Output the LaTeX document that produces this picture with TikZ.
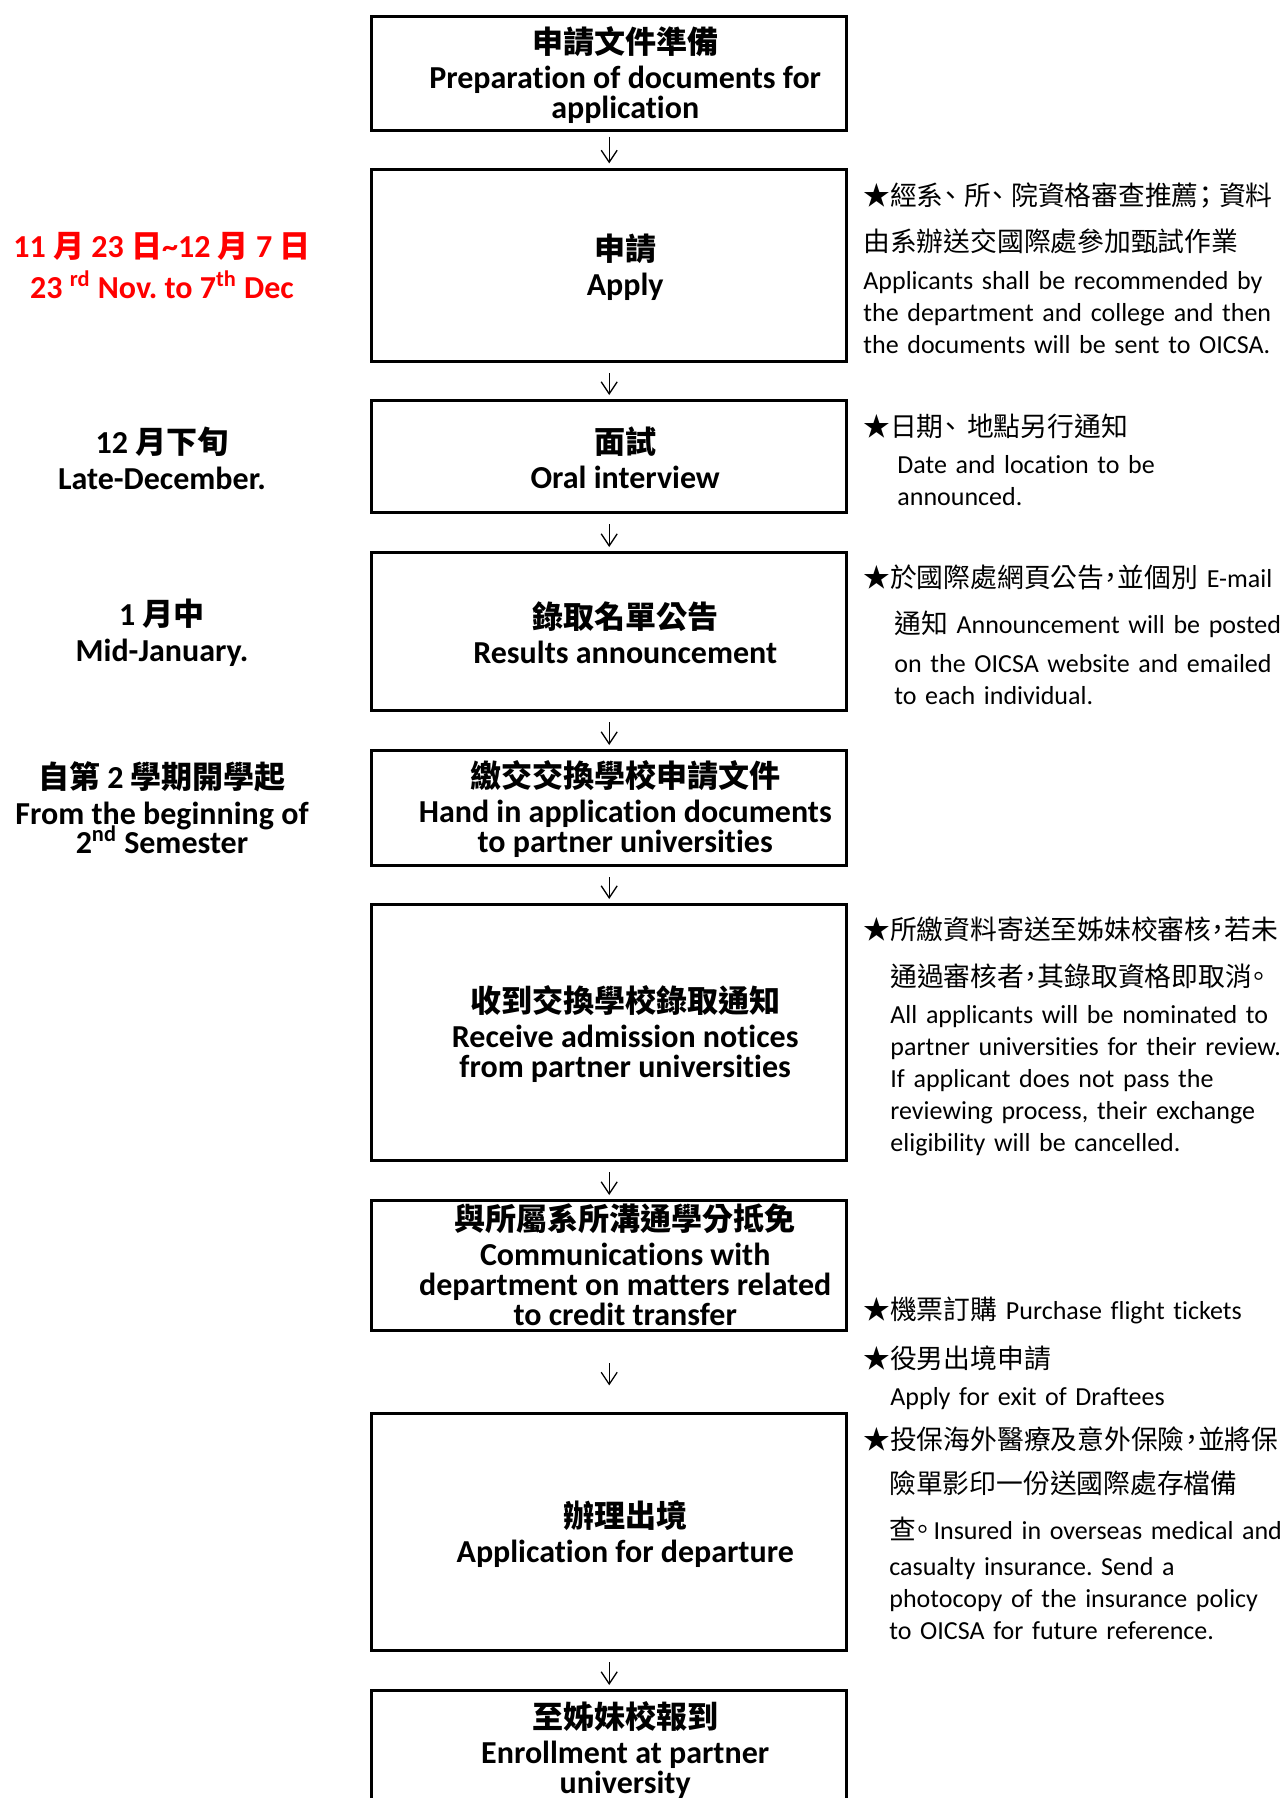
\documentclass[tikz,border=0pt]{standalone}
\usepackage{fontspec}
\setmainfont{Carlito}[Ligatures=NoCommon]
\newfontfamily\cjk{Noto Sans CJK TC}[Scale=0.97]
\newfontfamily\cjknote{Noto Sans CJK TC}[Scale=1.03, RawFeature=+halt]
\newcommand{\zh}[1]{{\cjk #1}}
\newcommand{\zhn}[1]{{\cjknote #1}}
\usetikzlibrary{arrows.meta}
\frenchspacing

\begin{document}
\begin{tikzpicture}[x=0.5pt, y=-0.5pt, line join=round,
    flowbox/.style={draw, line width=1.65pt, line join=miter, minimum width=237.5pt,
      inner sep=0pt},
    boxtext/.style={align=center, inner sep=0pt,
      font=\bfseries\fontsize{16}{15}\selectfont\setlength{\lineskiplimit}{-6pt}},
    flowarrow/.style={-{Straight Barb[length=6pt, width=8pt]}, line width=0.65pt,
      shorten <=5pt, shorten >=2pt},
    datenote/.style={align=center,
      font=\bfseries\fontsize{16}{14.5}\selectfont\setlength{\lineskiplimit}{-6pt}},
    sidenote/.style={anchor=base west, align=left, text width=215pt, inner sep=0pt,
      font=\fontsize{13}{16}\selectfont}]
  % Define parameters
  \def\xc{609.2} % centre line of the boxes
  \def\xt{625.2} % centre line of the box texts (set a little right)
  \def\xd{162}   % centre line of the dates
  \def\xn{863}   % left edge of the notes

  % Page frame (size of the whole sheet)
  \useasboundingbox (0,0) rectangle (1280,1798);

  % Boxes of the flow, top to bottom
  \node[flowbox, minimum height=56.85pt] (prep) at (\xc,73.5) {};
  \node[flowbox, minimum height=95.85pt] (apply) at (\xc,265.5) {};
  \node[flowbox, minimum height=55.85pt] (interview) at (\xc,456.5) {};
  \node[flowbox, minimum height=78.85pt] (results) at (\xc,631.5) {};
  \node[flowbox, minimum height=57.35pt] (handin) at (\xc,808) {};
  \node[flowbox, minimum height=127.85pt] (admit) at (\xc,1032.5) {};
  \node[flowbox, minimum height=64.85pt] (credit) at (\xc,1265.5) {};
  \node[flowbox, minimum height=118.35pt] (depart) at (\xc,1532) {};
  \node[flowbox, minimum height=57pt] (enrol) at (\xc,1747.6) {};

  % Texts inside the boxes
  \node[boxtext] (preptext) at (\xt,75)
    {\zh{申請文件準備}\\[2.5pt]Preparation of documents for\\application};
  \node[boxtext] (applytext) at (\xt,267)
    {\zh{申請}\\[2.5pt]Apply};
  \node[boxtext] (interviewtext) at (\xt,457.5)
    {\zh{面試}\\[2.5pt]Oral interview};
  \node[boxtext] (resultstext) at (\xt,633)
    {\zh{錄取名單公告}\\[2.5pt]Results announcement};
  \node[boxtext] (handintext) at (\xt,809.5)
    {\zh{繳交交換學校申請文件}\\[2.5pt]Hand in application documents\\to partner universities};
  \node[boxtext] (admittext) at (\xt,1034)
    {\zh{收到交換學校錄取通知}\\[2.5pt]Receive admission notices\\from partner universities};
  \node[boxtext] (credittext) at (\xt,1265)
    {\zh{與所屬系所溝通學分抵免}\\[2.5pt]Communications with\\department on matters related\\to credit transfer};
  \node[boxtext] (departtext) at (\xt,1534)
    {\zh{辦理出境}\\[2.5pt]Application for departure};
  \node[boxtext] (enroltext) at (\xt,1750)
    {\zh{至姊妹校報到}\\[2.5pt]Enrollment at partner\\university};

  % Arrows between the boxes
  \draw[flowarrow, shorten <=2.3pt, shorten >=2.3pt] (prep) -- (apply);
  \draw[flowarrow] (apply) -- (interview);
  \draw[flowarrow] (interview) -- (results);
  \draw[flowarrow] (results) -- (handin);
  \draw[flowarrow] (handin) -- (admit);
  \draw[flowarrow] (admit) -- (credit);
  \draw[flowarrow, shorten <=15.5pt, shorten >=13.3pt] (credit) -- (depart);
  \draw[flowarrow] (depart) -- (enrol);

  % Dates on the left
  \node[datenote, text=red] (dateapply) at (\xd,266)
    {11 \zh{月} 23 \zh{日}\textasciitilde 12 \zh{月} 7 \zh{日}\\[6pt]
     23 \textsuperscript{rd} Nov. to 7\textsuperscript{th} Dec};
  \node[datenote] (dateinterview) at (\xd,458)
    {12 \zh{月下旬}\\[3.5pt]Late-December.};
  \node[datenote] (dateresults) at (\xd,633)
    {1 \zh{月中}\\[3.5pt]Mid-January.};
  \node[datenote] (datehandin) at (\xd,808)
    {\zh{自第} 2 \zh{學期開學起}\\[3.5pt]From the beginning of\\2\textsuperscript{nd} Semester};

  % Notes on the right
  \node[sidenote] (noteapply) at (\xn,205)
    {\zhn{★經系、\hspace{3.5pt}所、\hspace{3.5pt}院資格審查推薦；\hspace{3.5pt}資料}\\[7.4pt]
     \zhn{由系辦送交國際處參加甄試作業}\\[2.8pt]
     Applicants shall be recommended by\\
     the department and college and then\\
     the documents will be sent to OICSA.};
  \node[sidenote] (noteinterview) at (\xn,436)
    {\zhn{★日期、\hspace{5pt}地點另行通知}\\[2.5pt]
     \hspace*{17pt}Date and location to be\\
     \hspace*{17pt}announced.};
  \node[sidenote] (noteresults) at (\xn,587)
    {\zhn{★於國際處網頁公告，並個別} E-mail\\[7.4pt]
     \hspace*{15.5pt}\zhn{通知} Announcement will be posted\\[3.1pt]
     \hspace*{15.5pt}on the OICSA website and emailed\\
     \hspace*{15.5pt}to each individual.};
  \node[sidenote] (noteadmit) at (\xn,939)
    {\zhn{★所繳資料寄送至姊妹校審核，若未}\\[7.5pt]
     \hspace*{13.5pt}\zhn{通過審核者，其錄取資格即取消。}\\[2.5pt]
     \hspace*{13.5pt}All applicants will be nominated to\\
     \hspace*{13.5pt}partner universities for their review.\\
     \hspace*{13.5pt}If applicant does not pass the\\
     \hspace*{13.5pt}reviewing process, their exchange\\
     \hspace*{13.5pt}eligibility will be cancelled.};
  \node[sidenote] (noteflight) at (\xn,1319)
    {\zhn{★機票訂購} Purchase flight tickets};
  \node[sidenote] (notedraftee) at (\xn,1368)
    {\zhn{★役男出境申請}\\[2.5pt]
     \hspace*{13.5pt}Apply for exit of Draftees};
  \node[sidenote] (noteinsure) at (\xn,1449)
    {\zhn{★投保海外醫療及意外保險，並將保}\\[6.35pt]
     \hspace*{13pt}\zhn{險單影印一份送國際處存檔備}\\[7pt]
     \hspace*{13pt}\zhn{查。}\hspace{2pt}Insured in overseas medical and\\[2pt]
     \hspace*{13pt}casualty insurance. Send a\\
     \hspace*{13pt}photocopy of the insurance policy\\
     \hspace*{13pt}to OICSA for future reference.};
\end{tikzpicture}
\end{document}
